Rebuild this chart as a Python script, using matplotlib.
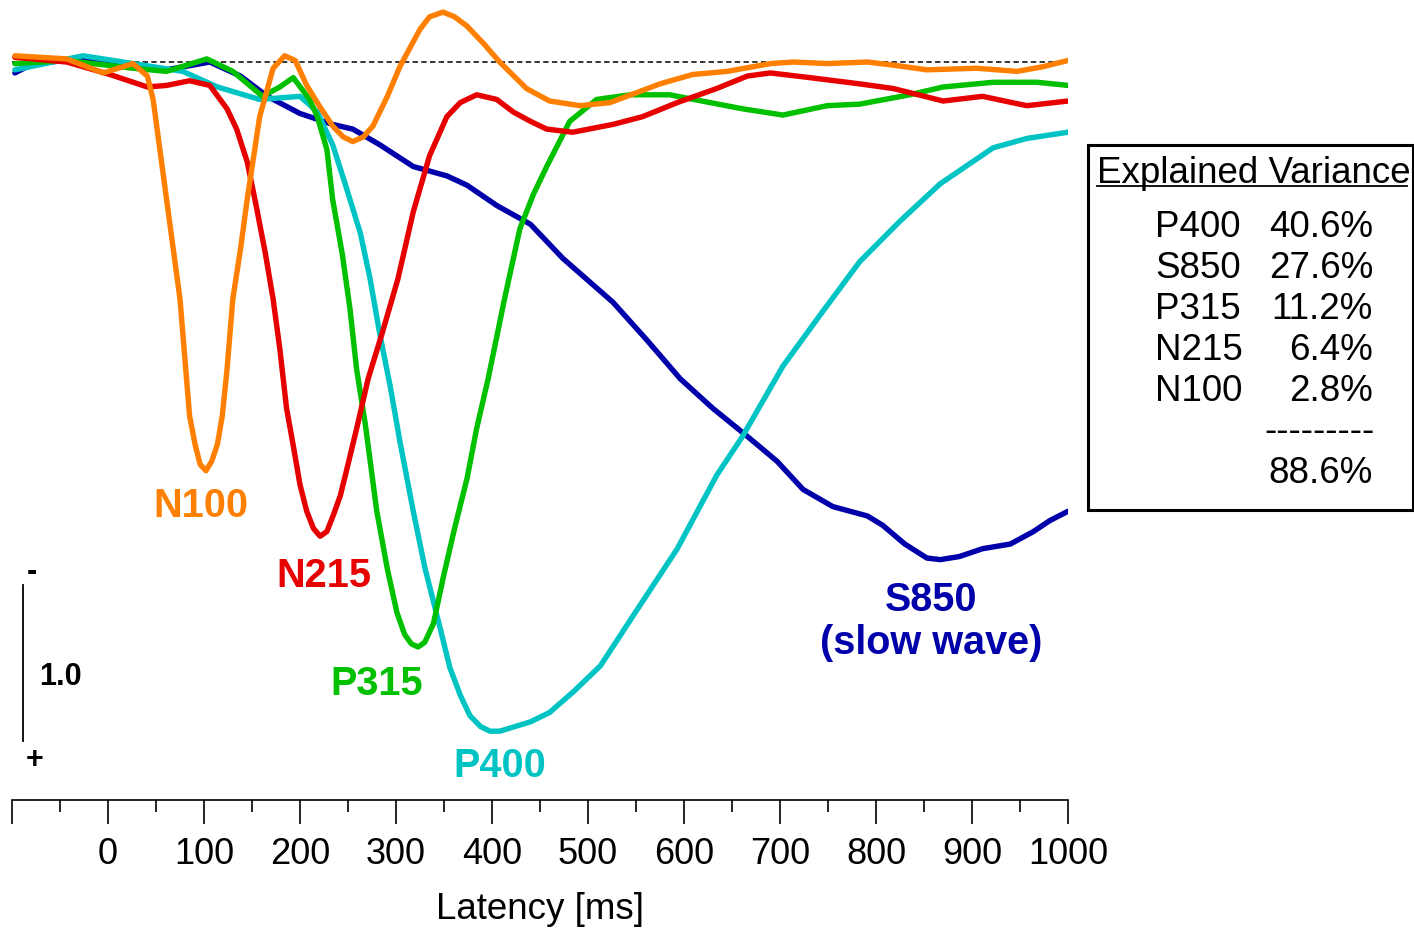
import numpy as np
import matplotlib
matplotlib.use("Agg")
import matplotlib.pyplot as plt
from matplotlib.patches import Rectangle
from matplotlib.lines import Line2D

plt.rcParams['font.family'] = ['Liberation Sans', 'DejaVu Sans']

# Component waveforms
# latency in ms, amplitude in scale-bar units (positive is drawn downward)
s850_ms = [-97, -78, -26, 26, 61, 106, 138, 166, 200, 234, 255, 283, 318, 353, 374,
           405, 440, 474, 526, 561, 596, 630, 666, 697, 724, 755, 791, 807, 830, 853,
           867, 887, 911, 940, 964, 981, 1000]
s850_amp = [0.07, 0.01, -0.02, 0.03, 0.05, 0.00, 0.09, 0.22, 0.33, 0.40, 0.43, 0.53, 0.67, 0.73, 0.79,
            0.92, 1.04, 1.26, 1.54, 1.78, 2.03, 2.22, 2.40, 2.56, 2.74, 2.85, 2.91, 2.97, 3.09, 3.18,
            3.19, 3.17, 3.12, 3.09, 3.01, 2.94, 2.88]

p400_ms = [-97, -26, 26, 78, 114, 158, 200, 218, 234, 247, 263, 273, 283, 294, 304,
           318, 330, 346, 356, 367, 377, 388, 398, 408, 424, 440, 460, 486, 513, 547,
           593, 634, 661, 703, 742, 783, 825, 867, 922, 957, 1000]
p400_amp = [0.05, -0.04, 0.01, 0.06, 0.16, 0.24, 0.22, 0.32, 0.53, 0.78, 1.10, 1.39, 1.74, 2.08, 2.43,
            2.88, 3.24, 3.63, 3.88, 4.06, 4.19, 4.26, 4.29, 4.29, 4.26, 4.23, 4.17, 4.03, 3.87, 3.55,
            3.12, 2.65, 2.40, 1.95, 1.62, 1.28, 1.02, 0.78, 0.55, 0.49, 0.45]

p315_ms = [-97, -43, 26, 61, 103, 130, 161, 179, 193, 210, 218, 228, 234, 244, 252,
           259, 268, 280, 291, 301, 309, 316, 323, 330, 339, 349, 361, 374, 384, 396,
           413, 429, 443, 457, 481, 509, 544, 585, 627, 661, 703, 749, 783, 835, 870,
           922, 968, 1000]
p315_amp = [0.01, -0.01, 0.04, 0.06, -0.02, 0.06, 0.22, 0.16, 0.10, 0.24, 0.35, 0.56, 0.88, 1.23, 1.58,
            1.97, 2.32, 2.88, 3.25, 3.53, 3.67, 3.73, 3.75, 3.72, 3.60, 3.31, 2.99, 2.67, 2.35, 2.03,
            1.52, 1.07, 0.85, 0.67, 0.38, 0.24, 0.21, 0.21, 0.26, 0.30, 0.34, 0.28, 0.27, 0.21, 0.16,
            0.13, 0.13, 0.15]

n215_ms = [-97, -43, 2, 41, 61, 85, 106, 124, 134, 145, 154, 164, 172, 179, 186,
           193, 200, 207, 214, 221, 228, 235, 242, 250, 259, 271, 286, 302, 318, 335,
           353, 367, 384, 405, 422, 440, 457, 484, 526, 557, 593, 634, 666, 690, 731,
           783, 818, 870, 911, 957, 1000]
n215_amp = [-0.03, 0.00, 0.08, 0.16, 0.15, 0.12, 0.15, 0.30, 0.43, 0.64, 0.91, 1.23, 1.52, 1.84, 2.22,
            2.46, 2.71, 2.88, 2.99, 3.04, 3.01, 2.90, 2.78, 2.58, 2.35, 2.03, 1.73, 1.39, 0.96, 0.60,
            0.35, 0.26, 0.21, 0.24, 0.32, 0.38, 0.43, 0.45, 0.40, 0.35, 0.26, 0.17, 0.09, 0.07, 0.10,
            0.14, 0.17, 0.25, 0.22, 0.28, 0.25]

n100_ms = [-97, -43, -5, 26, 41, 47, 54, 61, 68, 75, 81, 85, 91, 96, 102,
           108, 114, 119, 124, 130, 138, 145, 158, 172, 184, 195, 207, 221, 234, 245,
           255, 266, 276, 291, 304, 325, 335, 349, 361, 374, 391, 408, 436, 460, 492,
           523, 575, 609, 645, 690, 714, 749, 791, 818, 853, 905, 947, 974, 1000]
n100_amp = [-0.04, -0.02, 0.07, 0.01, 0.09, 0.24, 0.56, 0.88, 1.20, 1.52, 1.97, 2.27, 2.46, 2.58, 2.62,
            2.56, 2.45, 2.27, 1.97, 1.52, 1.20, 0.88, 0.35, 0.04, -0.04, -0.01, 0.15, 0.29, 0.41, 0.48,
            0.51, 0.48, 0.41, 0.22, 0.03, -0.21, -0.29, -0.32, -0.29, -0.23, -0.12, 0.00, 0.17, 0.25, 0.28,
            0.26, 0.14, 0.08, 0.06, 0.01, 0.00, 0.01, 0.00, 0.02, 0.05, 0.04, 0.06, 0.03, -0.01]

# explained variance table
comp_names = ["P400", "S850", "P315", "N215", "N100"]
comp_var = ["40.6%", "27.6%", "11.2%", "6.4%", "2.8%"]
total_var = "88.6%"

c_blue = "#0000aa"
c_cyan = "#00c4c4"
c_green = "#00c000"
c_red = "#e60000"
c_orange = "#ff8000"

W, H = 1414, 929
fig = plt.figure(figsize=(W / 100, H / 100), dpi=100)
ax = fig.add_axes([12 / W, 1 - 801 / H, 1056 / W, 801 / H])

def fx(px):
    return px / W

def fy(py):
    return 1 - py / H

ax.plot([-100, 1000], [0, 0], color="black", lw=1.1, ls=(0, (3.5, 2.2)), zorder=1)

lw = 3.9
line_kw = dict(lw=lw, solid_capstyle="round", solid_joinstyle="round")
ax.plot(s850_ms, s850_amp, color=c_blue, zorder=2, **line_kw)
ax.plot(p400_ms, p400_amp, color=c_cyan, zorder=3, **line_kw)
ax.plot(p315_ms, p315_amp, color=c_green, zorder=4, **line_kw)
ax.plot(n215_ms, n215_amp, color=c_red, zorder=5, **line_kw)
ax.plot(n100_ms, n100_amp, color=c_orange, zorder=6, **line_kw)

# component labels
lab_kw = dict(fontsize=28.5, fontweight="bold", ha="center", va="baseline")
ax.text(97, 2.91, "N100", color=c_orange, **lab_kw)
ax.text(225, 3.36, "N215", color=c_red, **lab_kw)
ax.text(280, 4.05, "P315", color=c_green, **lab_kw)
ax.text(408, 4.58, "P400", color=c_cyan, **lab_kw)
ax.text(857, 3.51, "S850", color=c_blue, **lab_kw)
ax.text(857, 3.79, "(slow wave)", color=c_blue, **lab_kw)

# amplitude scale bar
ax.plot([-88.5, -88.5], [3.35, 4.35], color="black", lw=1.3)
ax.text(-79, 3.26, "-", fontsize=22, fontweight="bold", ha="center", va="center")
ax.text(-76, 4.47, "+", fontsize=22, fontweight="bold", ha="center", va="center")
ax.text(-72, 3.99, "1.0", fontsize=22, fontweight="bold", ha="left", va="baseline")

ax.set_xlim(-100, 1000)
ax.set_ylim(4.731, -0.404)
ax.set_xticks(range(-100, 1001, 100))
ax.set_xticklabels([""] + [str(v) for v in range(0, 1001, 100)])
ax.set_xticks(range(-50, 1000, 100), minor=True)
ax.tick_params(axis="x", which="major", length=17, width=1.2, direction="out",
               labelsize=26, pad=9)
ax.tick_params(axis="x", which="minor", length=8.5, width=1.2, direction="out")
ax.set_yticks([])
for side in ["left", "right", "top"]:
    ax.spines[side].set_visible(False)
ax.spines["bottom"].set_linewidth(1.2)
ax.set_xlabel("Latency [ms]", fontsize=26.5, labelpad=14)
ax.patch.set_alpha(0)

# explained variance box
fs_box = 26.5
fig.patches.append(Rectangle((fx(1088), fy(511)), fx(1413) - fx(1088), fy(146) - fy(511),
                             transform=fig.transFigure, fill=False, lw=2.2, ec="black"))
fig.text(fx(1097), fy(183), "Explained Variance", fontsize=fs_box, ha="left", va="baseline")
fig.lines.append(Line2D([fx(1097), fx(1407)], [fy(187), fy(187)], transform=fig.transFigure,
                        color="black", lw=1.3))
row_y = [237, 278, 319, 360, 401]
for name, var, yy in zip(comp_names, comp_var, row_y):
    fig.text(fx(1155), fy(yy), name, fontsize=fs_box, ha="left", va="baseline")
    fig.text(fx(1373), fy(yy), var, fontsize=fs_box, ha="right", va="baseline")
fig.text(fx(1375), fy(432), "---------", fontsize=fs_box, ha="right", va="center")
fig.text(fx(1268), fy(483), total_var, fontsize=fs_box, ha="left", va="baseline")

fig.savefig("out.png", dpi=100)
